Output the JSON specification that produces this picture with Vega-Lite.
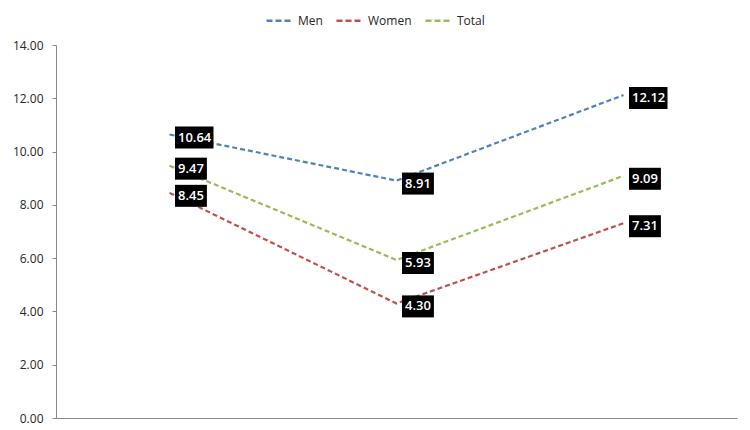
{
  "$schema": "https://vega.github.io/schema/vega-lite/v6.json",
  "width": 681,
  "height": 373,
  "autosize": {"type": "none"},
  "padding": {"left": 56, "top": 45, "right": 13, "bottom": 12},
  "background": "white",
  "config": {
    "view": {"stroke": null},
    "font": "Open Sans"
  },
  "data": {
    "values": [
      {"cat": "A", "series": "Men", "value": 10.64},
      {"cat": "B", "series": "Men", "value": 8.91},
      {"cat": "C", "series": "Men", "value": 12.12},
      {"cat": "A", "series": "Women", "value": 8.45},
      {"cat": "B", "series": "Women", "value": 4.30},
      {"cat": "C", "series": "Women", "value": 7.31},
      {"cat": "A", "series": "Total", "value": 9.47},
      {"cat": "B", "series": "Total", "value": 5.93},
      {"cat": "C", "series": "Total", "value": 9.09}
    ]
  },
  "encoding": {
    "x": {
      "field": "cat",
      "type": "nominal",
      "scale": {"paddingInner": 0, "paddingOuter": 0},
      "axis": {
        "title": null,
        "labels": false,
        "ticks": false,
        "grid": false,
        "domainColor": "#898989",
        "domainWidth": 1
      }
    },
    "y": {
      "field": "value",
      "type": "quantitative",
      "scale": {"domain": [0, 14], "nice": false, "zero": true},
      "axis": {
        "title": null,
        "values": [0, 2, 4, 6, 8, 10, 12, 14],
        "format": ".2f",
        "grid": false,
        "domainColor": "#898989",
        "tickColor": "#898989",
        "tickSize": 4,
        "labelPadding": 9,
        "labelFont": "Open Sans",
        "labelFontSize": 12,
        "labelColor": "#262626"
      }
    }
  },
  "layer": [
    {
      "mark": {"type": "line", "strokeDash": [5, 3], "strokeWidth": 2.2},
      "encoding": {
        "color": {
          "field": "series",
          "type": "nominal",
          "scale": {
            "domain": ["Men", "Women", "Total"],
            "range": ["#4F81BD", "#C0504D", "#9BBB59"]
          },
          "legend": {
            "title": null,
            "orient": "none",
            "legendX": 209,
            "legendY": -39,
            "direction": "horizontal",
            "symbolType": "stroke",
            "symbolSize": 676,
            "symbolStrokeWidth": 2.5,
            "symbolDash": [6, 3],
            "labelFont": "Open Sans",
            "labelFontSize": 12,
            "labelColor": "#262626",
            "labelOffset": 4,
            "columnPadding": 8
          }
        }
      }
    },
    {
      "mark": {"type": "point", "filled": true, "fill": "black", "opacity": 1, "strokeWidth": 0, "size": 484},
      "encoding": {
        "shape": {
          "condition": {"test": "datum.value >= 10", "value": "M0.5,-0.73H4.0V1.27H0.5Z"},
          "value": "M0.5,-0.73H3.4V1.27H0.5Z"
        }
      }
    },
    {
      "mark": {"type": "text", "align": "left", "baseline": "middle", "dx": 8.5, "dy": 3, "color": "white", "font": "Open Sans", "fontSize": 13, "fontWeight": 600},
      "encoding": {
        "text": {"field": "value", "type": "quantitative", "format": ".2f"}
      }
    }
  ]
}
